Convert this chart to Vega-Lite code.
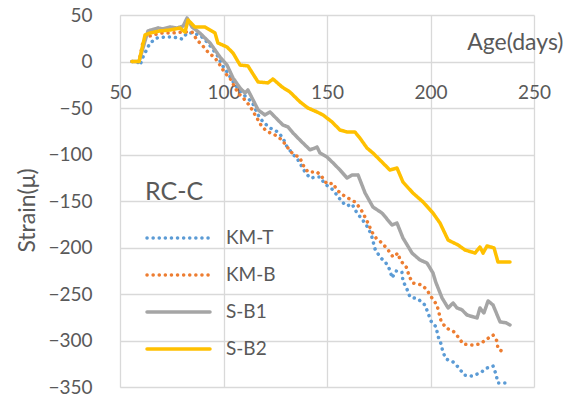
{
  "$schema": "https://vega.github.io/schema/vega-lite/v6.json",
  "width": 414,
  "height": 372,
  "padding": {"left": 120, "top": 15, "right": 40, "bottom": 13},
  "autosize": {"type": "none"},
  "background": "white",
  "config": {
    "view": {"stroke": null},
    "font": "Lato",
    "axis": {"labelFont": "Lato", "titleFont": "Lato", "labelColor": "#595959", "titleColor": "#595959", "gridColor": "#D9D9D9", "gridWidth": 1.3, "domainColor": "#D9D9D9", "ticks": false}
  },
  "datasets": {
    "strain": [
      {"s":"KM-T","d":55.8,"v":0},{"s":"KM-T","d":58.2,"v":0},{"s":"KM-T","d":59.7,"v":-3.8},{"s":"KM-T","d":61.1,"v":4.8},{"s":"KM-T","d":64.5,"v":19.9},{"s":"KM-T","d":67.9,"v":25.3},{"s":"KM-T","d":71.7,"v":26.3},{"s":"KM-T","d":75.6,"v":26.3},{"s":"KM-T","d":80,"v":24.2},{"s":"KM-T","d":82.4,"v":30.6},{"s":"KM-T","d":84.8,"v":30.6},{"s":"KM-T","d":88.6,"v":28.5},{"s":"KM-T","d":92.5,"v":19.9},{"s":"KM-T","d":96.9,"v":7},{"s":"KM-T","d":99.3,"v":-3.8},{"s":"KM-T","d":101.7,"v":-11.3},{"s":"KM-T","d":105.6,"v":-25},{"s":"KM-T","d":110.4,"v":-37.1},{"s":"KM-T","d":113.8,"v":-43.5},{"s":"KM-T","d":116.7,"v":-57.5},{"s":"KM-T","d":119.1,"v":-65},{"s":"KM-T","d":122.5,"v":-71.5},{"s":"KM-T","d":126.3,"v":-75.8},{"s":"KM-T","d":128.7,"v":-82.3},{"s":"KM-T","d":130.7,"v":-91.9},{"s":"KM-T","d":133.1,"v":-98.4},{"s":"KM-T","d":136,"v":-105.9},{"s":"KM-T","d":139.4,"v":-118.8},{"s":"KM-T","d":141.8,"v":-125.3},{"s":"KM-T","d":145.2,"v":-124.2},{"s":"KM-T","d":146.6,"v":-124.2},{"s":"KM-T","d":149,"v":-131.7},{"s":"KM-T","d":152.4,"v":-137.1},{"s":"KM-T","d":154.8,"v":-143.5},{"s":"KM-T","d":157.2,"v":-151},{"s":"KM-T","d":159.7,"v":-155.4},{"s":"KM-T","d":162.1,"v":-153.2},{"s":"KM-T","d":164.5,"v":-163},{"s":"KM-T","d":166.9,"v":-169.4},{"s":"KM-T","d":169.3,"v":-177},{"s":"KM-T","d":171.3,"v":-185.5},{"s":"KM-T","d":172.2,"v":-193},{"s":"KM-T","d":173.2,"v":-201.6},{"s":"KM-T","d":175.6,"v":-210.2},{"s":"KM-T","d":178.5,"v":-216.7},{"s":"KM-T","d":180.4,"v":-224.2},{"s":"KM-T","d":181.4,"v":-232.8},{"s":"KM-T","d":183.3,"v":-225.3},{"s":"KM-T","d":186.2,"v":-226.3},{"s":"KM-T","d":186.7,"v":-236},{"s":"KM-T","d":188.6,"v":-244.6},{"s":"KM-T","d":190.1,"v":-253.2},{"s":"KM-T","d":194,"v":-255.4},{"s":"KM-T","d":197.3,"v":-261.8},{"s":"KM-T","d":198.8,"v":-270.4},{"s":"KM-T","d":200.2,"v":-279},{"s":"KM-T","d":202.7,"v":-285.5},{"s":"KM-T","d":203.6,"v":-295.2},{"s":"KM-T","d":205.1,"v":-303.8},{"s":"KM-T","d":206,"v":-312.4},{"s":"KM-T","d":207.5,"v":-319.9},{"s":"KM-T","d":210.9,"v":-323.1},{"s":"KM-T","d":213.8,"v":-329.6},{"s":"KM-T","d":216.2,"v":-337.1},{"s":"KM-T","d":220,"v":-338.2},{"s":"KM-T","d":223.9,"v":-335},{"s":"KM-T","d":227.3,"v":-329.6},{"s":"KM-T","d":230.2,"v":-327.4},{"s":"KM-T","d":231.6,"v":-336},{"s":"KM-T","d":232.6,"v":-345.7},{"s":"KM-T","d":236.5,"v":-345.7},
      {"s":"KM-B","d":55.8,"v":0},{"s":"KM-B","d":59.2,"v":0},{"s":"KM-B","d":61.1,"v":21},{"s":"KM-B","d":63,"v":26.3},{"s":"KM-B","d":65.9,"v":28.5},{"s":"KM-B","d":70.3,"v":30.6},{"s":"KM-B","d":75.1,"v":30.6},{"s":"KM-B","d":80,"v":31.7},{"s":"KM-B","d":84.8,"v":31.7},{"s":"KM-B","d":87.2,"v":23.1},{"s":"KM-B","d":89.6,"v":17.7},{"s":"KM-B","d":92.5,"v":10.2},{"s":"KM-B","d":95.9,"v":3.8},{"s":"KM-B","d":98.3,"v":-3.8},{"s":"KM-B","d":100.7,"v":-12.4},{"s":"KM-B","d":103.1,"v":-17.7},{"s":"KM-B","d":107,"v":-33.9},{"s":"KM-B","d":108,"v":-36},{"s":"KM-B","d":110.4,"v":-41.4},{"s":"KM-B","d":112.8,"v":-48},{"s":"KM-B","d":116.7,"v":-62.9},{"s":"KM-B","d":118.6,"v":-70.4},{"s":"KM-B","d":121.5,"v":-75.8},{"s":"KM-B","d":124.9,"v":-79},{"s":"KM-B","d":128.3,"v":-84.4},{"s":"KM-B","d":130.7,"v":-91.9},{"s":"KM-B","d":133.1,"v":-98.4},{"s":"KM-B","d":137,"v":-103.8},{"s":"KM-B","d":138.4,"v":-111.3},{"s":"KM-B","d":140.8,"v":-118.8},{"s":"KM-B","d":145.2,"v":-118.8},{"s":"KM-B","d":147.6,"v":-124.2},{"s":"KM-B","d":150,"v":-131.7},{"s":"KM-B","d":152.9,"v":-131},{"s":"KM-B","d":154.8,"v":-138.2},{"s":"KM-B","d":157.7,"v":-143.5},{"s":"KM-B","d":160.1,"v":-146.8},{"s":"KM-B","d":163.5,"v":-151},{"s":"KM-B","d":165.9,"v":-157.5},{"s":"KM-B","d":167.4,"v":-163},{"s":"KM-B","d":169.8,"v":-173.7},{"s":"KM-B","d":171.7,"v":-183.3},{"s":"KM-B","d":173.7,"v":-189.8},{"s":"KM-B","d":176.6,"v":-195.2},{"s":"KM-B","d":179.5,"v":-202.7},{"s":"KM-B","d":181.9,"v":-210.2},{"s":"KM-B","d":184.3,"v":-206},{"s":"KM-B","d":185.3,"v":-213.4},{"s":"KM-B","d":188.6,"v":-222},{"s":"KM-B","d":189.6,"v":-230.6},{"s":"KM-B","d":191.5,"v":-238.2},{"s":"KM-B","d":195.9,"v":-240.3},{"s":"KM-B","d":198.3,"v":-245.7},{"s":"KM-B","d":200.7,"v":-254.3},{"s":"KM-B","d":203.1,"v":-261.8},{"s":"KM-B","d":205.1,"v":-279},{"s":"KM-B","d":207.5,"v":-286.6},{"s":"KM-B","d":210.9,"v":-289.8},{"s":"KM-B","d":213.8,"v":-297.3},{"s":"KM-B","d":215.7,"v":-303.8},{"s":"KM-B","d":220,"v":-304.8},{"s":"KM-B","d":223.9,"v":-303.8},{"s":"KM-B","d":227.3,"v":-298.4},{"s":"KM-B","d":230.2,"v":-294},{"s":"KM-B","d":232.1,"v":-300.5},{"s":"KM-B","d":232.6,"v":-309},{"s":"KM-B","d":236,"v":-313.4},
      {"s":"S-B1","d":55.8,"v":0},{"s":"S-B1","d":59.2,"v":0},{"s":"S-B1","d":63.5,"v":32.8},{"s":"S-B1","d":68.4,"v":36},{"s":"S-B1","d":70.8,"v":35},{"s":"S-B1","d":74.2,"v":37.1},{"s":"S-B1","d":77.5,"v":36},{"s":"S-B1","d":80.5,"v":38},{"s":"S-B1","d":82.4,"v":46.8},{"s":"S-B1","d":84.8,"v":37.1},{"s":"S-B1","d":88.6,"v":30.6},{"s":"S-B1","d":93.5,"v":19.9},{"s":"S-B1","d":98.3,"v":4.8},{"s":"S-B1","d":101.7,"v":-3.8},{"s":"S-B1","d":104.6,"v":-17.7},{"s":"S-B1","d":108,"v":-28.5},{"s":"S-B1","d":110.4,"v":-33.9},{"s":"S-B1","d":111.8,"v":-30.6},{"s":"S-B1","d":114.3,"v":-41.4},{"s":"S-B1","d":116.7,"v":-52},{"s":"S-B1","d":120,"v":-57.5},{"s":"S-B1","d":122.5,"v":-54.3},{"s":"S-B1","d":126.3,"v":-62.9},{"s":"S-B1","d":128.7,"v":-68.3},{"s":"S-B1","d":131.2,"v":-70.4},{"s":"S-B1","d":133.6,"v":-76.9},{"s":"S-B1","d":137.9,"v":-86.6},{"s":"S-B1","d":141.8,"v":-95},{"s":"S-B1","d":144.2,"v":-93},{"s":"S-B1","d":145.2,"v":-92},{"s":"S-B1","d":146.6,"v":-98.4},{"s":"S-B1","d":150,"v":-102.7},{"s":"S-B1","d":152.9,"v":-109},{"s":"S-B1","d":156.3,"v":-116.7},{"s":"S-B1","d":159.7,"v":-125.3},{"s":"S-B1","d":162.1,"v":-122},{"s":"S-B1","d":165,"v":-122},{"s":"S-B1","d":168.4,"v":-141.4},{"s":"S-B1","d":172.2,"v":-156.5},{"s":"S-B1","d":176.6,"v":-163},{"s":"S-B1","d":181.4,"v":-175.8},{"s":"S-B1","d":183.8,"v":-173.7},{"s":"S-B1","d":186.7,"v":-189.8},{"s":"S-B1","d":191.1,"v":-206},{"s":"S-B1","d":194.9,"v":-213.4},{"s":"S-B1","d":198.3,"v":-216.7},{"s":"S-B1","d":201.2,"v":-227.4},{"s":"S-B1","d":202.5,"v":-237},{"s":"S-B1","d":205.6,"v":-254.3},{"s":"S-B1","d":208.5,"v":-265},{"s":"S-B1","d":210.9,"v":-259.7},{"s":"S-B1","d":212.8,"v":-265},{"s":"S-B1","d":215.2,"v":-267},{"s":"S-B1","d":217.6,"v":-272.6},{"s":"S-B1","d":222.5,"v":-275.8},{"s":"S-B1","d":223.9,"v":-265},{"s":"S-B1","d":225.8,"v":-270.4},{"s":"S-B1","d":227.8,"v":-257.5},{"s":"S-B1","d":230.2,"v":-261.8},{"s":"S-B1","d":233.6,"v":-280},{"s":"S-B1","d":236.5,"v":-281},{"s":"S-B1","d":238.4,"v":-283.3},
      {"s":"S-B2","d":55.8,"v":0},{"s":"S-B2","d":59.2,"v":0},{"s":"S-B2","d":62.1,"v":28.5},{"s":"S-B2","d":64.5,"v":30.6},{"s":"S-B2","d":69.3,"v":32.8},{"s":"S-B2","d":74.2,"v":33.9},{"s":"S-B2","d":79,"v":36},{"s":"S-B2","d":81.4,"v":31.7},{"s":"S-B2","d":82.9,"v":44.6},{"s":"S-B2","d":86.2,"v":37},{"s":"S-B2","d":91.1,"v":37},{"s":"S-B2","d":95.9,"v":30.6},{"s":"S-B2","d":97.3,"v":19.9},{"s":"S-B2","d":101.7,"v":15.6},{"s":"S-B2","d":104.6,"v":9.1},{"s":"S-B2","d":108,"v":-3.8},{"s":"S-B2","d":111.8,"v":-4.8},{"s":"S-B2","d":116.7,"v":-22},{"s":"S-B2","d":121.5,"v":-23},{"s":"S-B2","d":123.9,"v":-18.8},{"s":"S-B2","d":128.3,"v":-27.4},{"s":"S-B2","d":132.1,"v":-32.8},{"s":"S-B2","d":137,"v":-43.5},{"s":"S-B2","d":140.8,"v":-50},{"s":"S-B2","d":145.2,"v":-54.3},{"s":"S-B2","d":148.1,"v":-57.5},{"s":"S-B2","d":152.4,"v":-65},{"s":"S-B2","d":156.3,"v":-73.7},{"s":"S-B2","d":159.7,"v":-75.8},{"s":"S-B2","d":163.5,"v":-75.8},{"s":"S-B2","d":165.9,"v":-82.3},{"s":"S-B2","d":169.3,"v":-93},{"s":"S-B2","d":172.2,"v":-98.4},{"s":"S-B2","d":175.6,"v":-106},{"s":"S-B2","d":180.4,"v":-116.7},{"s":"S-B2","d":183.8,"v":-114.5},{"s":"S-B2","d":186.7,"v":-129.6},{"s":"S-B2","d":191.5,"v":-141.4},{"s":"S-B2","d":196.4,"v":-151},{"s":"S-B2","d":201.2,"v":-163},{"s":"S-B2","d":204.6,"v":-173.7},{"s":"S-B2","d":208.5,"v":-192},{"s":"S-B2","d":213.3,"v":-197.3},{"s":"S-B2","d":216.7,"v":-202.7},{"s":"S-B2","d":221.5,"v":-206},{"s":"S-B2","d":223.9,"v":-199.5},{"s":"S-B2","d":225.4,"v":-206},{"s":"S-B2","d":227.3,"v":-198.4},{"s":"S-B2","d":230.7,"v":-200.5},{"s":"S-B2","d":232.6,"v":-215.6},{"s":"S-B2","d":238.4,"v":-215.6}
    ]
  },
  "data": {"name": "strain"},
  "mark": {"type": "line", "strokeWidth": 3.5, "strokeCap": "round", "strokeJoin": "round"},
  "encoding": {
    "x": {
      "field": "d", "type": "quantitative",
      "scale": {"domain": [50, 250], "nice": false, "zero": false},
      "axis": {
        "values": [50, 100, 150, 200, 250], "orient": "bottom", "offset": -325.5,
        "domain": false, "grid": true, "labelFlush": false, "labelOverlap": false,
        "labelFontSize": 19, "labelPadding": 22, "labelBaseline": "top",
        "title": "Age(days)", "titleFontSize": 23, "titleFontWeight": "normal",
        "titleAnchor": "end", "titleAlign": "right", "titleBaseline": "alphabetic",
        "titleX": 443, "titleY": -12
      }
    },
    "y": {
      "field": "v", "type": "quantitative",
      "scale": {"domain": [-350, 50], "nice": false, "zero": false},
      "axis": {
        "values": [-350, -300, -250, -200, -150, -100, -50, 0, 50],
        "domain": true, "grid": true, "labelOverlap": false,
        "labelFontSize": 19, "labelPadding": 28,
        "title": "Strain(μ)", "titleFontSize": 23, "titleFontWeight": "normal",
        "titleAngle": -90, "titleAlign": "center", "titleBaseline": "middle",
        "titleX": -93, "titleY": 195
      }
    },
    "color": {
      "field": "s", "type": "nominal",
      "scale": {"domain": ["KM-T", "KM-B", "S-B1", "S-B2"], "range": ["#5B9BD5", "#ED7D31", "#A5A5A5", "#FFC000"]},
      "legend": {
        "title": "RC-C", "orient": "none", "legendX": 25, "legendY": 165,
        "titleFontSize": 25, "titleFontWeight": "normal", "titleColor": "#595959", "titleFont": "Lato",
        "titlePadding": 23,
        "labelFontSize": 19, "labelColor": "#595959", "labelFont": "Lato", "labelOffset": 14,
        "symbolType": "stroke", "symbolSize": 3969, "symbolStrokeWidth": 3.5,
        "clipHeight": 20, "rowPadding": 17, "padding": 0,
        "encode": {"symbols": {"update": {"strokeCap": {"value": "round"}}}}
      }
    },
    "strokeDash": {
      "field": "s", "type": "nominal",
      "scale": {"domain": ["KM-T", "KM-B", "S-B1", "S-B2"], "range": [[0.1, 6], [0.1, 6], [1, 0], [1, 0]]},
      "legend": {
        "title": "RC-C", "orient": "none", "legendX": 25, "legendY": 165,
        "titleFontSize": 25, "titleFontWeight": "normal", "titleColor": "#595959", "titleFont": "Lato",
        "titlePadding": 23,
        "labelFontSize": 19, "labelColor": "#595959", "labelFont": "Lato", "labelOffset": 14,
        "symbolType": "stroke", "symbolSize": 3969, "symbolStrokeWidth": 3.5,
        "clipHeight": 20, "rowPadding": 17, "padding": 0,
        "encode": {"symbols": {"update": {"strokeCap": {"value": "round"}}}}
      }
    }
  }
}
